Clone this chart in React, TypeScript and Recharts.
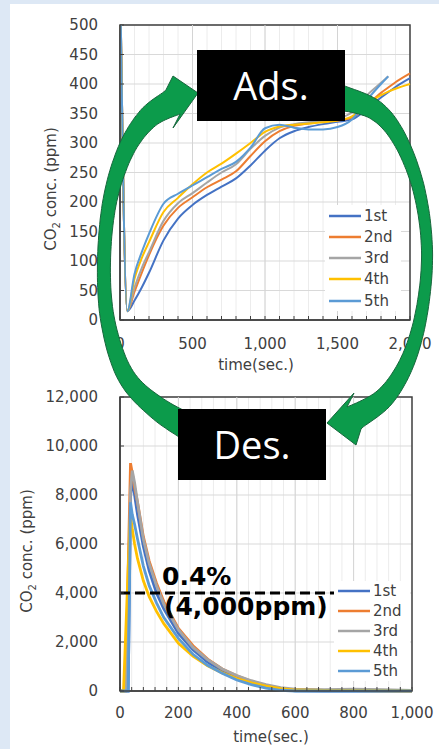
import {
  CartesianGrid,
  Legend,
  Line,
  LineChart,
  ReferenceArea,
  ReferenceLine,
  XAxis,
  YAxis,
} from "recharts";

// ---- data ----
const SERIES = ["1st", "2nd", "3rd", "4th", "5th"];
const COLORS = ["#4472C4", "#ED7D31", "#A5A5A5", "#FFC000", "#5B9BD5"];

// adsorption (top)
const adsTime = [0, 50, 100, 150, 200, 300, 400, 500, 600, 700, 800, 900, 1000, 1100, 1200, 1300, 1400, 1500, 1600, 1700, 1800, 1850, 1900, 2000];
const ads1st = [600, 15, 33, 55, 80, 135, 172, 195, 212, 226, 240, 262, 287, 308, 320, 327, 332, 336, 340, 357, 377, 386, 395, 410];
const ads2nd = [600, 15, 48, 80, 110, 160, 190, 208, 225, 238, 252, 278, 303, 320, 329, 333, 336, 338, 343, 363, 385, 394, 403, 418];
const ads3rd = [600, 15, 55, 88, 115, 168, 198, 215, 233, 250, 264, 290, 312, 326, 332, 335, 337, 341, 352, 380, 402, 413, null, null];
const ads4th = [600, 15, 70, 105, 132, 183, 207, 230, 250, 265, 282, 300, 319, 328, 331, 333, 335, 338, 345, 364, 381, 387, 392, 400];
const ads5th = [600, 15, 78, 115, 146, 197, 214, 228, 242, 256, 268, 292, 325, 331, 326, 323, 323, 327, 340, 372, 400, 413, null, null];

// desorption (bottom)
const desTime = [0, 12, 20, 28, 36, 42, 50, 60, 80, 100, 125, 150, 200, 250, 300, 350, 400, 450, 500, 550, 600, 700, 800, 900, 1000];
const des1st = [0, 0, 0, 0, 7900, 8700, 8000, 7200, 5900, 4900, 4000, 3350, 2350, 1680, 1180, 820, 550, 340, 180, 70, 10, 0, 0, 0, 0];
const des2nd = [0, 0, 0, 5000, 9300, 8900, 8300, 7700, 6300, 5300, 4400, 3650, 2550, 1850, 1300, 900, 620, 400, 230, 110, 40, 20, 20, 10, 0];
const des3rd = [0, 0, 0, 3000, 8200, 9000, 8500, 7700, 6200, 5200, 4300, 3550, 2500, 1780, 1280, 900, 630, 420, 260, 140, 80, 60, 80, 60, 20];
const des4th = [0, 0, 2500, 5000, 7200, 6600, 6000, 5400, 4500, 3850, 3250, 2750, 1950, 1420, 1030, 740, 510, 330, 200, 100, 40, 20, 20, 10, 0];
const des5th = [0, 0, 0, 0, 7700, 7200, 6800, 6200, 5100, 4300, 3600, 3000, 2150, 1500, 1050, 720, 450, 260, 120, 30, 0, 0, 0, 0, 0];

const adsYTicks = [0, 50, 100, 150, 200, 250, 300, 350, 400, 450, 500];
const adsXTicks = Array.from({ length: 21 }, (_, i) => i * 100);
const adsXMajor = [500, 1000, 1500];
const desYTicks = [0, 2000, 4000, 6000, 8000, 10000, 12000];
const desXTicks = Array.from({ length: 26 }, (_, i) => i * 40);
const desXMajor = [200, 400, 600, 800];
const LIMIT = 4000;

const adsData = adsTime.map((t, i) => ({
  t,
  s0: ads1st[i],
  s1: ads2nd[i],
  s2: ads3rd[i],
  s3: ads4th[i],
  s4: ads5th[i],
}));
const desData = desTime.map((t, i) => ({
  t,
  s0: des1st[i],
  s1: des2nd[i],
  s2: des3rd[i],
  s3: des4th[i],
  s4: des5th[i],
}));

const FONT = '"DejaVu Sans", Verdana, sans-serif';
const INK = "#404040";
const fmt = (v: number) => v.toLocaleString("en-US");

function LegendBox({ rowH }: { rowH: number }) {
  return (
    <div style={{ background: "#fff", padding: "0 4px", fontSize: 15, color: INK }}>
      {SERIES.map((s, i) => (
        <div key={s} style={{ display: "flex", alignItems: "center", height: rowH }}>
          <svg width={32} height={4}>
            <line x1={0} y1={2} x2={32} y2={2} stroke={COLORS[i]} strokeWidth={2.5} />
          </svg>
          <span style={{ marginLeft: 3 }}>{s}</span>
        </div>
      ))}
    </div>
  );
}

// ---- decorative circular arrows ----
type Pt = [number, number];

function spline(points: Pt[], steps: number): Pt[] {
  const out: Pt[] = [];
  for (let i = 0; i < points.length - 1; i++) {
    const p0 = points[Math.max(i - 1, 0)];
    const p1 = points[i];
    const p2 = points[i + 1];
    const p3 = points[Math.min(i + 2, points.length - 1)];
    for (let s = 0; s < steps; s++) {
      const t = s / steps;
      const t2 = t * t;
      const t3 = t2 * t;
      const f = (a: number, b: number, c: number, d: number) =>
        0.5 * (2 * b + (-a + c) * t + (2 * a - 5 * b + 4 * c - d) * t2 + (-a + 3 * b - 3 * c + d) * t3);
      out.push([f(p0[0], p1[0], p2[0], p3[0]), f(p0[1], p1[1], p2[1], p3[1])]);
    }
  }
  out.push(points[points.length - 1]);
  return out;
}

function arrowPath(center: Pt[], wTail: number, wMid: number, wHead: number, cA: Pt, tip: Pt, cB: Pt) {
  const pts = spline(center, 12);
  const n = pts.length;
  const sideA: Pt[] = [];
  const sideB: Pt[] = [];
  pts.forEach((p, i) => {
    const a = pts[Math.max(i - 1, 0)];
    const b = pts[Math.min(i + 1, n - 1)];
    let dx = b[0] - a[0];
    let dy = b[1] - a[1];
    const len = Math.hypot(dx, dy) || 1;
    dx /= len;
    dy /= len;
    const u = i / (n - 1);
    const w = u < 0.5 ? wMid + (wTail - wMid) * Math.pow(1 - 2 * u, 2) : wMid + (wHead - wMid) * Math.pow(2 * u - 1, 2);
    sideA.push([p[0] - (dy * w) / 2, p[1] + (dx * w) / 2]);
    sideB.push([p[0] + (dy * w) / 2, p[1] - (dx * w) / 2]);
  });
  const endA = sideA[n - 1];
  const d = (p: Pt, q: Pt) => Math.hypot(p[0] - q[0], p[1] - q[1]);
  const [c1, c2] = d(endA, cA) < d(endA, cB) ? [cA, cB] : [cB, cA];
  const poly = [...sideA, c1, tip, c2, ...sideB.reverse()];
  return "M" + poly.map((p) => p[0].toFixed(1) + "," + p[1].toFixed(1)).join("L") + "Z";
}

const leftArrow = arrowPath(
  [[205, 436], [160, 410], [126, 376], [108, 322], [104, 262], [110, 200], [126, 150], [148, 118], [173, 102]],
  30, 13, 28,
  [173, 76], [198, 93], [173, 128]
);
const rightArrow = arrowPath(
  [[338, 97], [375, 110], [400, 140], [419, 190], [427, 250], [422, 310], [408, 360], [385, 397], [354, 418]],
  26, 11, 26,
  [354, 393], [327, 423], [356, 445]
);

function Overlay() {
  return (
    <svg width={439} height={749} style={{ position: "absolute", left: 0, top: 0, pointerEvents: "none" }}>
      <text transform="translate(56,189) rotate(-90)" textAnchor="middle" fontSize={15} fill={INK} fontFamily={FONT}>
        CO<tspan fontSize={10} dy={4}>2</tspan>
        <tspan dy={-4}> conc. (ppm)</tspan>
      </text>
      <text transform="translate(32,551) rotate(-90)" textAnchor="middle" fontSize={15} fill={INK} fontFamily={FONT}>
        CO<tspan fontSize={10} dy={4}>2</tspan>
        <tspan dy={-4}> conc. (ppm)</tspan>
      </text>
      <text x={162} y={585} fontSize={25} fontWeight="bold" fill="#000" fontFamily={FONT}>
        0.4%
      </text>
      <text x={164} y={615} fontSize={25} fontWeight="bold" fill="#000" fontFamily={FONT}>
        (4,000ppm)
      </text>
      <path d={leftArrow} fill="#0c9b4b" stroke="#17663c" strokeWidth={1} />
      <path d={rightArrow} fill="#0c9b4b" stroke="#17663c" strokeWidth={1} />
      <rect x={197} y={50} width={148} height={71} fill="#000" />
      <text x={271} y={100} textAnchor="middle" fontSize={38} fill="#fff" fontFamily='"Open Sans", sans-serif'>
        Ads.
      </text>
      <rect x={178} y={409} width={148} height={71} fill="#000" />
      <text x={252} y={459} textAnchor="middle" fontSize={38} fill="#fff" fontFamily='"Open Sans", sans-serif'>
        Des.
      </text>
    </svg>
  );
}

export default function App() {
  const tick = { fill: INK, fontSize: 15 };
  const axisLine = { stroke: INK, strokeWidth: 1.5 };
  return (
    <div
      style={{
        position: "absolute",
        left: 0,
        top: 0,
        width: 439,
        height: 749,
        background: "#dde8f5",
        fontFamily: FONT,
        overflow: "hidden",
      }}
    >
      <div style={{ position: "absolute", left: 10, top: 4, right: 0, bottom: 0, background: "#fff" }} />

      {/* adsorption */}
      <div style={{ position: "absolute", left: 0, top: 0 }}>
        <LineChart width={439} height={380} data={adsData} margin={{ top: 25, right: 29, left: 0, bottom: 0 }}>
          <CartesianGrid horizontal={false} stroke="#ececec" />
          <CartesianGrid vertical={false} stroke="#d9d9d9" />
          {adsXMajor.map((v) => (
            <ReferenceLine key={v} x={v} stroke="#d4d4d4" />
          ))}
          <XAxis
            dataKey="t"
            type="number"
            domain={[0, 2000]}
            ticks={adsXTicks}
            interval={0}
            tickFormatter={(v: number) => (v % 500 === 0 ? fmt(v) : "")}
            tick={tick}
            tickSize={-4}
            tickMargin={22}
            tickLine={{ stroke: INK }}
            axisLine={axisLine}
            height={60}
            label={{ value: "time(sec.)", position: "insideBottom", offset: 10, dx: -9, fill: INK, fontSize: 15 }}
          />
          <YAxis
            type="number"
            domain={[0, 500]}
            allowDataOverflow
            ticks={adsYTicks}
            interval={0}
            tick={tick}
            tickSize={-4}
            tickMargin={26}
            tickLine={{ stroke: INK }}
            axisLine={axisLine}
            width={120}
          />
          <ReferenceArea x1={0} x2={2000} y1={0} y2={500} fill="none" stroke={INK} strokeWidth={1.5} />
          {SERIES.map((s, i) => (
            <Line
              key={s}
              type="monotone"
              dataKey={"s" + i}
              name={s}
              stroke={COLORS[i]}
              strokeWidth={2}
              dot={false}
              isAnimationActive={false}
            />
          ))}
          <Legend
            layout="vertical"
            align="center"
            verticalAlign="middle"
            content={() => <LegendBox rowH={21.25} />}
            wrapperStyle={{ left: 325, top: 205, width: 76 }}
          />
        </LineChart>
      </div>

      {/* desorption */}
      <div style={{ position: "absolute", left: 0, top: 380 }}>
        <LineChart width={439} height={369} data={desData} margin={{ top: 17, right: 27, left: 0, bottom: 0 }}>
          <CartesianGrid horizontal={false} stroke="#ececec" />
          <CartesianGrid vertical={false} stroke="#d9d9d9" />
          {desXMajor.map((v) => (
            <ReferenceLine key={v} x={v} stroke="#d4d4d4" />
          ))}
          <XAxis
            dataKey="t"
            type="number"
            domain={[0, 1000]}
            ticks={desXTicks}
            interval={0}
            tickFormatter={(v: number) => (v % 200 === 0 ? fmt(v) : "")}
            tick={tick}
            tickSize={-4}
            tickMargin={20}
            tickLine={{ stroke: INK }}
            axisLine={axisLine}
            height={58}
            label={{ value: "time(sec.)", position: "insideBottom", offset: 7, dx: 5, fill: INK, fontSize: 15 }}
          />
          <YAxis
            type="number"
            domain={[0, 12000]}
            ticks={desYTicks}
            interval={0}
            tickFormatter={fmt}
            tick={tick}
            tickSize={-4}
            tickMargin={26}
            tickLine={{ stroke: INK }}
            axisLine={axisLine}
            width={120}
          />
          <ReferenceArea x1={0} x2={1000} y1={0} y2={12000} fill="none" stroke={INK} strokeWidth={1.5} />
          {SERIES.map((s, i) => (
            <Line
              key={s}
              type="linear"
              dataKey={"s" + i}
              name={s}
              stroke={COLORS[i]}
              strokeWidth={2.8}
              dot={false}
              isAnimationActive={false}
            />
          ))}
          <ReferenceLine
            segment={[
              { x: 0, y: LIMIT },
              { x: 745, y: LIMIT },
            ]}
            stroke="#000"
            strokeWidth={3}
            strokeDasharray="10 5"
          />
          <Legend
            layout="vertical"
            align="center"
            verticalAlign="middle"
            content={() => <LegendBox rowH={20} />}
            wrapperStyle={{ left: 334, top: 201, width: 76 }}
          />
        </LineChart>
      </div>

      <Overlay />
    </div>
  );
}
